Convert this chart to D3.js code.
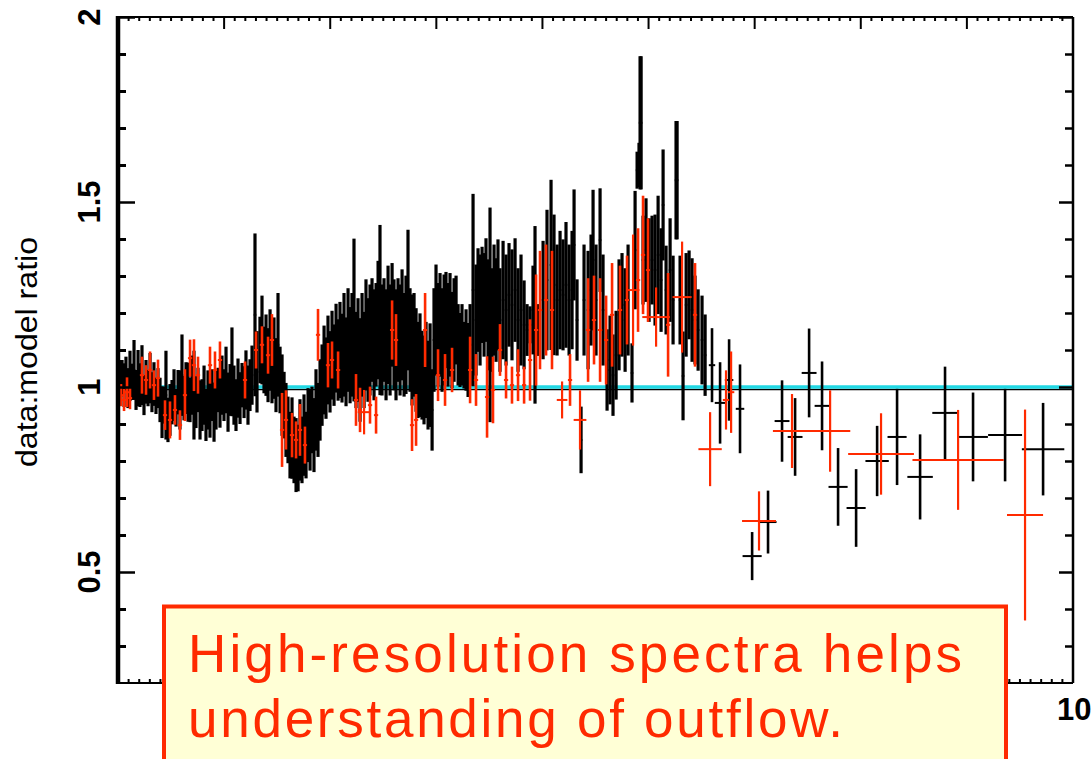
<!DOCTYPE html>
<html><head><meta charset="utf-8">
<script src="https://cdn.jsdelivr.net/npm/d3@7"></script>
<style>body{margin:0;background:#fff}</style>
</head><body>
<svg id="c" width="1092" height="759"></svg>
<script>
// ---- data (energy keV, data:model ratio, ratio error [, energy half-width]) ----
const yTickValues = [0.5, 1, 1.5, 2];
const yTickLabels = ["0.5", "1", "1.5", "2"];
const xTickValues = [10];
const xTickLabels = ["10"];
const yLabel = "data:model ratio";
const noteLines = ["High-resolution spectra  helps", "understanding of outflow."];
const modelRatio = [1];

const blackDense = [
[1.019,1.019,0.054],[1.038,1.024,0.049],[1.057,1.005,0.059],[1.075,1.041,0.041],[1.094,0.997,0.054],
[1.113,1.030,0.068],[1.132,1.014,0.049],[1.151,1.046,0.081],[1.170,0.992,0.054],[1.189,1.024,0.076],
[1.207,1.005,0.059],[1.226,1.032,0.081],[1.245,0.978,0.054],[1.264,1.014,0.059],[1.283,0.997,0.049],
[1.302,1.024,0.068],[1.320,0.986,0.054],[1.339,1.008,0.059],[1.358,0.976,0.049],[1.377,0.997,0.054],
[1.396,0.965,0.06],[1.415,0.932,0.07],[1.434,0.951,0.05],[1.452,0.978,0.12],[1.471,0.911,0.06],
[1.490,0.938,0.07],[1.509,0.959,0.06],[1.528,0.978,0.07],[1.547,0.943,0.05],[1.566,0.986,0.06],
[1.584,0.965,0.08],[1.603,1.032,0.11],[1.622,0.970,0.06],[1.641,0.997,0.07],
[1.660,0.986,0.08],[1.679,0.965,0.06],[1.697,1.005,0.08],[1.716,0.978,0.12],[1.735,0.959,0.07],
[1.754,0.992,0.06],[1.773,0.938,0.08],[1.792,0.951,0.07],[1.811,0.978,0.08],[1.829,0.924,0.07],
[1.848,0.965,0.08],[1.867,0.943,0.08],[1.886,0.978,0.07],[1.905,0.932,0.08],[1.924,0.965,0.08],
[1.943,0.992,0.06],[1.961,0.970,0.08],[1.980,1.005,0.08],[1.999,0.978,0.07],[2.018,1.019,0.09],
[2.037,0.959,0.08],[2.056,0.992,0.07],[2.074,1.041,0.12],[2.093,0.978,0.08],[2.112,0.951,0.07],
[2.131,0.997,0.08],[2.150,0.970,0.07],[2.169,1.005,0.06],[2.188,0.986,0.07],[2.206,1.019,0.08],
[2.225,0.978,0.08],[2.244,1.005,0.07],[2.263,1.032,0.08],[2.291,1.195,0.22],
[2.310,1.041,0.11],[2.338,1.100,0.09],[2.357,1.127,0.12],[2.376,1.073,0.09],[2.395,1.086,0.11],
[2.414,1.059,0.10],[2.433,1.100,0.11],[2.451,1.046,0.09],[2.470,1.078,0.11],[2.489,1.032,0.10],
[2.508,1.114,0.14],[2.527,1.019,0.09],[2.546,0.978,0.11],[2.565,0.951,0.09],[2.583,0.911,0.10],
[2.602,0.884,0.09],[2.621,0.843,0.09],[2.640,0.862,0.11],[2.659,0.830,0.09],[2.678,0.816,0.10],
[2.697,0.808,0.09],[2.715,0.857,0.11],[2.734,0.830,0.09],[2.753,0.870,0.11],[2.772,0.843,0.09],
[2.791,0.897,0.10],[2.810,0.884,0.11],[2.828,0.911,0.09],[2.847,0.870,0.10],[2.866,0.938,0.11],
[2.885,0.911,0.10],[2.904,0.965,0.11],
[2.923,1.005,0.11],[2.942,1.046,0.12],[2.960,1.024,0.11],[2.979,1.073,0.12],[2.998,1.041,0.11],
[3.017,1.086,0.12],[3.036,1.059,0.11],[3.055,1.105,0.12],[3.074,1.073,0.11],[3.092,1.100,0.13],
[3.111,1.078,0.12],[3.130,1.114,0.14],[3.149,1.068,0.12],[3.168,1.127,0.14],[3.187,1.086,0.13],
[3.205,1.114,0.14],[3.224,1.181,0.22],[3.243,1.073,0.13],[3.262,1.100,0.14],[3.281,1.046,0.14],
[3.300,1.114,0.14],[3.319,1.073,0.13],[3.337,1.141,0.15],[3.356,1.100,0.14],[3.375,1.127,0.15],
[3.394,1.154,0.14],[3.413,1.114,0.15],[3.432,1.141,0.14],[3.451,1.181,0.16],[3.469,1.208,0.23],
[3.488,1.127,0.15],[3.507,1.154,0.14],[3.526,1.114,0.15],[3.545,1.168,0.16],[3.564,1.127,0.15],
[3.583,1.195,0.14],[3.601,1.141,0.15],[3.620,1.114,0.15],[3.639,1.154,0.14],[3.658,1.127,0.15],
[3.677,1.168,0.15],[3.696,1.114,0.14],[3.714,1.141,0.16],[3.733,1.235,0.19],[3.752,1.127,0.14],
[3.771,1.100,0.15],[3.790,1.114,0.14],[3.809,1.073,0.14],[3.828,1.046,0.13],[3.846,1.059,0.14],
[3.865,1.032,0.12],[3.884,1.019,0.12],[3.903,1.046,0.13],[3.922,1.005,0.12],[3.941,1.032,0.14],
[3.960,0.938,0.11],[3.978,1.127,0.14],[3.997,1.181,0.15],[4.016,1.141,0.14],[4.035,1.168,0.14],
[4.054,1.127,0.14],[4.073,1.154,0.15],[4.091,1.181,0.13],[4.110,1.141,0.14],[4.129,1.168,0.14],
[4.148,1.127,0.13],[4.167,1.154,0.14],[4.186,1.181,0.12],[4.205,1.114,0.11],[4.223,1.100,0.10],
[4.242,1.114,0.11],[4.261,1.086,0.09],[4.280,1.100,0.11],[4.299,1.073,0.10],[4.318,1.114,0.11],
[4.346,1.262,0.26],[4.374,1.181,0.15],[4.393,1.235,0.14],[4.412,1.208,0.15],[4.431,1.249,0.13],
[4.450,1.222,0.14],[4.468,1.262,0.14],[4.487,1.195,0.15],[4.506,1.195,0.29],[4.525,1.181,0.14],
[4.544,1.235,0.15],[4.563,1.208,0.14],[4.581,1.249,0.15],[4.600,1.181,0.14],[4.629,1.235,0.16],
[4.657,1.208,0.15],[4.685,1.249,0.14],[4.713,1.222,0.15],[4.742,1.262,0.14],[4.770,1.181,0.14],
[4.798,1.208,0.15],[4.827,1.168,0.12],[4.855,1.154,0.07],[4.883,1.168,0.05],[4.911,1.208,0.12],
[4.930,1.195,0.24],[4.959,1.154,0.07],
[5.006,1.235,0.16],[5.043,1.289,0.19],[5.081,1.330,0.23],[5.109,1.276,0.19],[5.138,1.235,0.15],
[5.166,1.262,0.16],[5.194,1.249,0.15],[5.222,1.276,0.17],[5.251,1.235,0.15],[5.279,1.262,0.16],
[5.298,1.384,0.15],[5.326,1.181,0.11],[5.364,0.857,0.09],[5.392,1.235,0.15],[5.430,1.208,0.16],
[5.458,1.262,0.15],[5.477,1.343,0.19],[5.505,1.235,0.15],[5.543,1.397,0.14],[5.571,1.208,0.15],
[5.609,1.046,0.11],[5.637,1.073,0.12],[5.665,1.032,0.11],[5.694,1.086,0.12],[5.722,1.195,0.15],
[5.750,1.222,0.14],[5.779,1.181,0.14],[5.807,1.235,0.15],[5.844,1.038,0.08],[5.873,1.370,0.16],
[5.892,1.586,0.05],[5.910,1.600,0.06],[5.920,1.714,0.18],[5.930,1.714,0.18],[5.948,1.343,0.12],[5.976,1.370,0.14],
[6.005,1.316,0.14],[6.033,1.343,0.12],[6.061,1.316,0.15],[6.090,1.357,0.16],[6.118,1.289,0.14],
[6.137,1.492,0.15],[6.165,1.262,0.12],[6.203,1.316,0.14],[6.231,1.235,0.12],[6.259,1.559,0.16],
[6.269,1.559,0.16],[6.297,1.235,0.12],[6.325,1.030,0.12],[6.354,1.222,0.14],[6.382,1.249,0.12],[6.410,1.208,0.14],
[6.438,1.181,0.12],[6.467,1.154,0.11],[6.504,1.127,0.12],[6.533,1.086,0.11]
];
const blackWide = [
[6.598,1.059,0.10,0.03],[6.674,0.957,0.11,0.05],[6.759,1.019,0.11,0.04],[6.862,0.941,0.12,0.04],
[6.976,0.543,0.065,0.09],[7.126,0.635,0.085,0.08],[7.258,0.908,0.11,0.07],[7.381,0.865,0.105,0.07],
[7.513,1.038,0.12,0.07],[7.635,0.949,0.12,0.07],[7.786,0.730,0.105,0.09],[7.956,0.673,0.105,0.09],
[8.154,0.800,0.095,0.11],[8.342,0.865,0.13,0.09],[8.559,0.757,0.115,0.12],[8.794,0.930,0.125,0.12],
[9.058,0.865,0.12,0.14],[9.360,0.870,0.125,0.16],[9.718,0.832,0.125,0.20]
];
const redDense = [
[1.028,0.978,0.03],[1.057,0.965,0.03],[1.085,0.986,0.04],[1.113,0.970,0.03],[1.226,1.032,0.05],
[1.264,1.019,0.04],[1.302,1.046,0.05],[1.339,1.005,0.04],[1.377,1.024,0.05],[1.443,0.924,0.04],
[1.490,0.911,0.05],[1.537,0.938,0.04],[1.584,0.897,0.04],[1.631,0.978,0.07],[1.679,1.078,0.05],
[1.716,1.059,0.07],[1.754,1.032,0.05],[1.867,1.059,0.05],[1.914,1.046,0.05],[1.961,1.073,0.05],
[2.197,1.019,0.05],[2.301,1.100,0.05],[2.357,1.114,0.05],[2.414,1.086,0.05],[2.451,1.127,0.07],
[2.546,0.884,0.10],[2.583,0.911,0.08],[2.640,0.870,0.06],[2.678,0.857,0.05],[2.715,0.884,0.07],
[2.762,0.843,0.05],[2.885,1.141,0.07],[2.979,1.059,0.06],[3.017,1.073,0.05],[3.074,1.046,0.05],
[3.243,0.965,0.07],[3.281,0.938,0.06],[3.375,0.951,0.05],[3.432,0.924,0.05],[3.583,1.154,0.08],
[3.620,1.127,0.07],[3.771,0.897,0.07],[3.809,0.911,0.07],[3.894,1.154,0.10],[4.016,1.032,0.07],
[4.082,1.019,0.07],[4.148,1.046,0.06],[4.318,1.046,0.09],[4.374,1.019,0.07],[4.478,0.973,0.11],
[4.534,0.992,0.09],[4.600,1.100,0.07],[4.657,1.019,0.05],[4.713,1.005,0.05],[4.770,1.032,0.07],
[4.827,1.005,0.05],[4.883,1.073,0.11],[4.940,1.154,0.15],[4.977,1.208,0.16],[5.034,1.235,0.15],
[5.090,1.208,0.16],[5.260,1.019,0.07],[5.430,1.154,0.14],[5.486,1.181,0.12],[5.543,1.154,0.14],
[5.600,1.127,0.12],[5.656,1.195,0.14],[5.731,1.208,0.12],[5.797,1.235,0.12],[5.901,1.289,0.14],
[5.948,1.357,0.16],[5.995,1.316,0.14],[6.184,1.168,0.14],[6.438,1.195,0.14]
];
const redWide = [
[3.319,0.932,0.06,0.06],[5.185,0.965,0.05,0.05],[5.354,0.911,0.08,0.06],[5.854,1.262,0.15,0.06],
[6.071,1.189,0.08,0.13],[6.316,1.243,0.15,0.09],
[6.580,0.832,0.10,0.11],[6.730,0.965,0.08,0.03],[6.778,0.986,0.11,0.03],[7.041,0.638,0.08,0.16],
[7.352,0.881,0.10,0.18],[7.711,0.881,0.11,0.19],[8.191,0.819,0.11,0.31],[8.917,0.803,0.135,0.43],
[9.548,0.654,0.285,0.17]
];

// ---- drawing ----
const L = 118, R = 1073, T = 17, B = 683;
const svg = d3.select("#c");
const x = d3.scaleLinear().domain([1, 10]).range([L, R]);
const y = d3.scaleLinear().domain([0.2, 2]).range([B, T]);

svg.append("defs").append("clipPath").attr("id", "clip")
  .append("rect").attr("x", L).attr("y", T).attr("width", R - L).attr("height", B - T);
const plot = svg.append("g").attr("clip-path", "url(#clip)");

// model line
modelRatio.forEach(m => {
  plot.append("line").attr("x1", L).attr("x2", R).attr("y1", y(m) + 2.5).attr("y2", y(m) + 2.5)
    .attr("stroke", "#000").attr("stroke-width", 1.5);
  plot.append("line").attr("x1", L).attr("x2", R).attr("y1", y(m)).attr("y2", y(m))
    .attr("stroke", "#22d8e4").attr("stroke-width", 3.5);
});

function drawSeries(rows, defXerr, color, vw, hw) {
  const g = plot.append("g");
  const pts = rows.map(d => ({e: d[0], r: d[1], err: d[2], xe: d.length > 3 ? d[3] : defXerr}));
  g.selectAll("line.v").data(pts).join("line").attr("class", "v")
    .attr("x1", d => x(d.e)).attr("x2", d => x(d.e))
    .attr("y1", d => y(d.r - d.err)).attr("y2", d => y(d.r + d.err))
    .attr("stroke", color).attr("stroke-width", vw);
  g.selectAll("line.h").data(pts).join("line").attr("class", "h")
    .attr("x1", d => x(d.e - d.xe)).attr("x2", d => x(d.e + d.xe))
    .attr("y1", d => y(d.r)).attr("y2", d => y(d.r))
    .attr("stroke", color).attr("stroke-width", hw);
}
drawSeries(blackDense, 0.012, "#000", 3.2, 2);
drawSeries(blackWide, 0, "#000", 2.6, 2);
drawSeries(redDense, 0.02, "#ff2a00", 2.6, 2);
drawSeries(redWide, 0, "#ff2a00", 2.2, 2);

// axes frame with tick marks (from the scales)
const frame = svg.append("g");
const minorY = d3.range(3, 20).map(v => v / 10).filter(v => !yTickValues.some(t => Math.abs(t - v) < 1e-6));
const minorX = d3.range(11, 100).map(v => v / 10).filter(v => Math.abs(v - Math.round(v)) > 1e-6);
const majorX = d3.range(2, 10);

function yTicks(vals, x0, len, w) {
  frame.append("g").selectAll("line").data(vals).join("line")
    .attr("x1", x0).attr("x2", x0 + len)
    .attr("y1", d => Math.round(y(d)) + 0.5).attr("y2", d => Math.round(y(d)) + 0.5)
    .attr("stroke", "#000").attr("stroke-width", w);
}
function xTicks(vals, y0, len, w) {
  frame.append("g").selectAll("line").data(vals).join("line")
    .attr("y1", y0).attr("y2", y0 + len)
    .attr("x1", d => x(d)).attr("x2", d => x(d))
    .attr("stroke", "#000").attr("stroke-width", w);
}
yTicks(minorY, L, 8, 3);
yTicks(yTickValues, L, 17, 2.5);
yTicks(minorY, R, -8, 2.5);
yTicks(yTickValues, R, -14, 2.5);
xTicks(minorX, T, 4, 2);
xTicks(majorX, T, 12, 2);
xTicks(minorX, B, -4, 2);
xTicks(majorX, B, -12, 2);

frame.append("line").attr("x1", L).attr("x2", R).attr("y1", T).attr("y2", T).attr("stroke", "#000").attr("stroke-width", 2);
frame.append("line").attr("x1", L).attr("x2", R).attr("y1", B).attr("y2", B).attr("stroke", "#000").attr("stroke-width", 2);
frame.append("line").attr("x1", R).attr("x2", R).attr("y1", T).attr("y2", B).attr("stroke", "#000").attr("stroke-width", 2.5);
frame.append("line").attr("x1", L).attr("x2", L).attr("y1", T - 1).attr("y2", B + 1).attr("stroke", "#000").attr("stroke-width", 4.5);

// tick labels
yTickValues.forEach((v, i) => {
  svg.append("text").attr("transform", `translate(100,${y(v)}) rotate(-90)`)
    .attr("text-anchor", "middle").attr("font-family", "Liberation Sans, Arial, sans-serif")
    .attr("font-size", 31).attr("font-weight", "bold").attr("fill", "#000").text(yTickLabels[i]);
});
xTickValues.forEach((v, i) => {
  svg.append("text").attr("x", x(v) - 16).attr("y", 720)
    .attr("font-family", "Liberation Sans, Arial, sans-serif")
    .attr("font-size", 31).attr("font-weight", "bold").attr("fill", "#000").text(xTickLabels[i]);
});
svg.append("text").attr("transform", "translate(37,352) rotate(-90)")
  .attr("text-anchor", "middle").attr("font-family", "Liberation Sans, Arial, sans-serif")
  .attr("font-size", 29).attr("textLength", 230).attr("lengthAdjust", "spacingAndGlyphs")
  .attr("fill", "#000").text(yLabel);

// annotation box
svg.append("rect").attr("x", 164).attr("y", 606.5).attr("width", 842).attr("height", 220)
  .attr("fill", "#ffffd6").attr("stroke", "#ff2a00").attr("stroke-width", 4);
const noteX = 188, noteY = [672, 737], noteW = [774, 655];
noteLines.forEach((s, i) => {
  svg.append("text").attr("x", noteX).attr("y", noteY[i])
    .attr("font-family", "Liberation Sans, Arial, sans-serif").attr("font-size", 53)
    .attr("textLength", noteW[i]).attr("lengthAdjust", "spacing")
    .attr("fill", "#ff2a00").text(s);
});
</script>
</body></html>
